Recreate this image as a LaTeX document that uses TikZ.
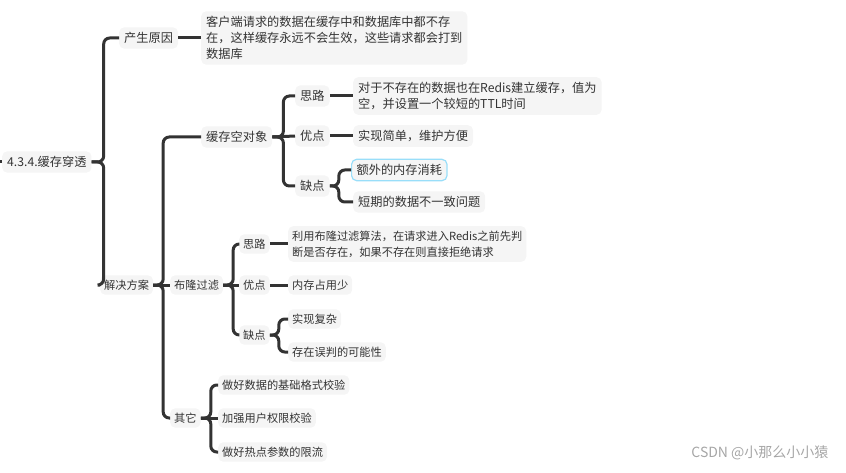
\documentclass[tikz,border=0pt]{standalone}
\usepackage{fontspec}
\setmainfont{Noto Sans CJK SC}
\usetikzlibrary{positioning}
\definecolor{boxgray}{HTML}{F5F5F5}
\definecolor{linegray}{HTML}{333333}
\tikzset{
  topic/.style={fill=boxgray,rounded corners=5pt,inner xsep=5pt,inner ysep=5pt,anchor=west,text=linegray,font=\fontsize{12.2}{16}\selectfont,align=left},
  subtopic/.style={topic,inner xsep=4pt,inner ysep=4.5pt,font=\fontsize{11.2}{16}\selectfont},
  conn/.style={draw=linegray,line width=3pt,rounded corners=6pt}
}
\newcommand{\branch}[3]{\draw[conn] (#1.east) -- ++(#3,0) |- (#2.west);}
\newcommand{\straight}[2]{\draw[conn] (#1.east) -- (#2.west);}
\begin{document}
\begin{tikzpicture}[x=1pt,y=-1pt]
        \useasboundingbox (0,0) rectangle (846,473);
        % root and first level
        \node[topic] (root) at (2,162) {4.3.4.缓存穿透};
        \node[topic] (cause) at (119,38) {产生原因};
        \node[topic] (causetxt) at (201,38) {客户端请求的数据在缓存中和数据库中都不存\\在，这样缓存永远不会生效，这些请求都会打到\\数据库};
        \node[subtopic] (fix) at (100,285) {解决方案};

        % cache empty object
        \node[topic] (empty) at (201,137) {缓存空对象};
        \node[topic] (idea1) at (295,96) {思路};
        \node[topic] (idea1txt) at (353,96) {对于不存在的数据也在Redis建立缓存，值为\\空，并设置一个较短的TTL时间};
        \node[topic] (pro1) at (295,136) {优点};
        \node[topic] (pro1txt) at (353,136) {实现简单，维护方便};
        \node[topic] (con1) at (295,186) {缺点};
        \node[topic,draw=cyan!40,line width=1.2pt] (con1a) at (351,170) {额外的内存消耗};
        \node[topic] (con1b) at (353,202) {短期的数据不一致问题};

        % bloom filter
        \node[subtopic] (bloom) at (170,285) {布隆过滤};
        \node[subtopic] (idea2) at (239,244) {思路};
        \node[subtopic] (idea2txt) at (288,244) {利用布隆过滤算法，在请求进入Redis之前先判\\断是否存在，如果不存在则直接拒绝请求};
        \node[subtopic] (pro2) at (239,285) {优点};
        \node[subtopic] (pro2txt) at (288,285) {内存占用少};
        \node[subtopic] (con2) at (239,335) {缺点};
        \node[subtopic] (con2a) at (288,319) {实现复杂};
        \node[subtopic] (con2b) at (288,352) {存在误判的可能性};

        % others
        \node[subtopic] (other) at (170,418) {其它};
        \node[subtopic] (oth1) at (218,385) {做好数据的基础格式校验};
        \node[subtopic] (oth2) at (218,418) {加强用户权限校验};
        \node[subtopic] (oth3) at (218,452) {做好热点参数的限流};

        % connectors
        \draw[conn] (0,162) -- (root.west);
        \branch{root}{cause}{12}
        \branch{root}{fix}{12}
        \straight{cause}{causetxt}
        \straight{fix}{bloom}
        \branch{fix}{empty}{10}
        \branch{fix}{other}{10}
        \straight{empty}{pro1}
        \branch{empty}{idea1}{11}
        \branch{empty}{con1}{11}
        \straight{idea1}{idea1txt}
        \straight{pro1}{pro1txt}
        \branch{con1}{con1a}{9}
        \branch{con1}{con1b}{9}
        \straight{bloom}{pro2}
        \branch{bloom}{idea2}{10}
        \branch{bloom}{con2}{10}
        \straight{idea2}{idea2txt}
        \straight{pro2}{pro2txt}
        \branch{con2}{con2a}{9}
        \branch{con2}{con2b}{9}
        \straight{other}{oth2}
        \branch{other}{oth1}{10}
        \branch{other}{oth3}{10}

        % watermark
        \node[text=gray!70,font=\fontsize{14}{16}\selectfont,anchor=east] (mark) at (832,453) {CSDN @小那么小小猿};
\end{tikzpicture}
\end{document}
